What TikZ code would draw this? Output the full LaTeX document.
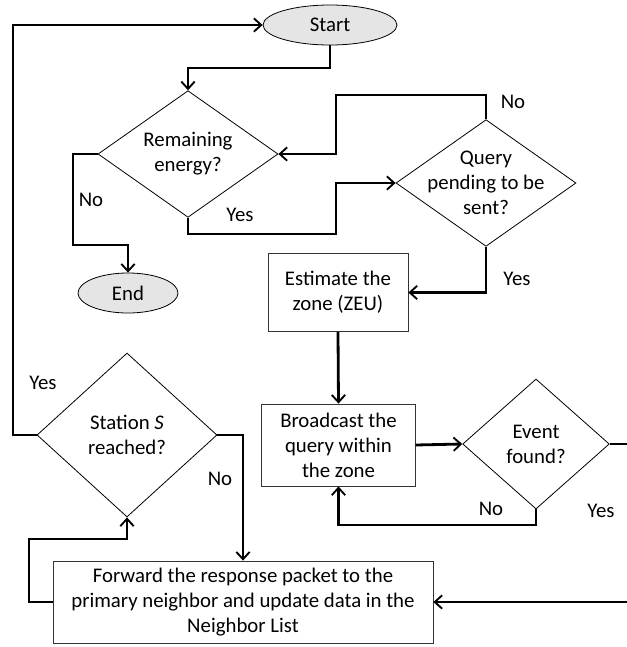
\documentclass[tikz,border=0pt]{standalone}
\usepackage{fontspec}
\setmainfont{Carlito}
\usetikzlibrary{shapes.geometric,arrows.meta}
\tikzset{
  conn/.style={line width=2.1pt, -{Straight Barb[length=5.5pt,width=10pt,line width=1.4pt]}},
  term/.style={ellipse, draw, line width=0.6pt, fill=black!10, inner sep=0pt},
  dia/.style={diamond, draw, line width=0.6pt, inner sep=0pt, fill=white},
  proc/.style={rectangle, draw=black!80, line width=0.6pt, inner sep=0pt, align=center, fill=white},
  txt/.style={align=center, inner sep=0pt, font=\fontsize{15.6}{18.8}\selectfont},
  lab/.style={inner sep=0pt, font=\fontsize{15.6}{18.8}\selectfont}
}
\begin{document}
\begin{tikzpicture}[x=0.75pt, y=-0.75pt]
\useasboundingbox (0,0) rectangle (627,647);
% nodes
\node[term, minimum width=100.5pt, minimum height=30pt] (start) at (330,25) {};
\node[txt] at (start) {Start};
\node[term, minimum width=75pt, minimum height=30pt] (end) at (128,293) {};
\node[txt] at (end) {End};
\node[dia, minimum width=135pt, minimum height=95pt] (rem) at (188,154) {};
\node[txt] at (rem) {Remaining\\energy?};
\node[dia, minimum width=135pt, minimum height=95pt] (qry) at (486,183) {};
\node[txt] at (qry) {Query\\pending to be\\sent?};
\node[proc, minimum width=105pt, minimum height=59pt] (est) at (338,292.5) {};
\node[txt] at (est) {Estimate the\\zone (ZEU)};
\node[proc, minimum width=115pt, minimum height=61.5pt] (bc) at (338.5,445) {};
\node[txt] at (bc) {Broadcast the\\query within\\the zone};
\node[dia, minimum width=110pt, minimum height=97.5pt] (evt) at (536,444) {};
\node[txt] at (evt) {Event\\found?};
\node[dia, minimum width=135pt, minimum height=123pt] (sta) at (127,435) {};
\node[txt] at (sta) {Station \textit{S}\\reached?};
\node[proc, minimum width=285pt, minimum height=61.5pt] (fwd) at (243,602) {};
\node[txt] at (fwd) {Forward the response packet to the\\primary neighbor and update data in the\\Neighbor List};
% labels
\node[lab] at (91,200) {No};
\node[lab] at (240,215) {Yes};
\node[lab] at (513,102) {No};
\node[lab] at (517,279) {Yes};
\node[lab] at (491,509) {No};
\node[lab] at (601,511) {Yes};
\node[lab] at (43,383) {Yes};
\node[lab] at (220,479) {No};
% connectors
\draw[conn] (start.south) |- (188,68) -- (rem.north);
\draw[conn] (rem.west) -| (73,245) -| (end.north);
\draw[conn] (rem.south) |- (336,234) |- (qry.west);
\draw[conn] (qry.north) |- (336,95) |- (rem.east);
\draw[conn] (qry.south) |- (est.east);
\draw[conn] (est.south) -- (bc.north);
\draw[conn] (bc.east) -- (evt.west);
\draw[conn] (evt.south) |- (338.5,525) -- (bc.south);
\draw[conn] (evt.east) -- (632,444) |- (fwd.east);
\draw[conn] (sta.west) -| (13,25) -- (start.west);
\draw[conn] (sta.east) -| (fwd.north);
\draw[conn] (fwd.west) -| (29,539) -| (sta.south);
\end{tikzpicture}
\end{document}
